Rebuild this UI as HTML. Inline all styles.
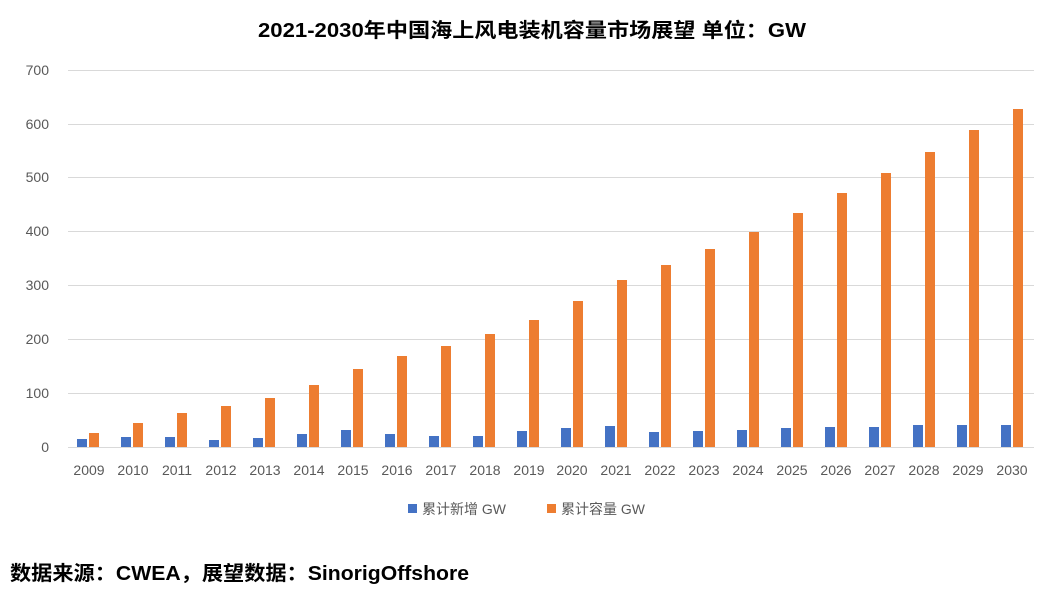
<!DOCTYPE html>
<html><head><meta charset="utf-8"><style>
body{margin:0;background:#fff;}
svg{display:block;font-family:"Liberation Sans","Noto Sans CJK SC",sans-serif;}
</style></head><body>
<svg width="1060" height="603" viewBox="0 0 1060 603">
<rect width="1060" height="603" fill="#fff"/>
<text x="258" y="37" textLength="548" lengthAdjust="spacingAndGlyphs" font-size="20" font-weight="bold" fill="#000">2021-2030年中国海上风电装机容量市场展望 单位：GW</text>
<g stroke="#d9d9d9" stroke-width="1">
<line x1="68" x2="1034" y1="70.5" y2="70.5"/><line x1="68" x2="1034" y1="124.5" y2="124.5"/>
<line x1="68" x2="1034" y1="177.5" y2="177.5"/><line x1="68" x2="1034" y1="231.5" y2="231.5"/>
<line x1="68" x2="1034" y1="285.5" y2="285.5"/><line x1="68" x2="1034" y1="339.5" y2="339.5"/>
<line x1="68" x2="1034" y1="393.5" y2="393.5"/><line x1="68" x2="1034" y1="447.5" y2="447.5"/>
</g>
<g font-size="14" fill="#595959" text-anchor="end">
<text x="49" y="75">700</text><text x="49" y="129">600</text><text x="49" y="182">500</text>
<text x="49" y="236">400</text><text x="49" y="290">300</text><text x="49" y="344">200</text>
<text x="49" y="398">100</text><text x="49" y="452">0</text>
</g>
<g fill="#4472C4">
<rect x="77" y="439" width="10" height="8"/><rect x="121" y="437" width="10" height="10"/>
<rect x="165" y="437" width="10" height="10"/><rect x="209" y="440" width="10" height="7"/>
<rect x="253" y="438" width="10" height="9"/><rect x="297" y="434" width="10" height="13"/>
<rect x="341" y="430" width="10" height="17"/><rect x="385" y="434" width="10" height="13"/>
<rect x="429" y="436" width="10" height="11"/><rect x="473" y="436" width="10" height="11"/>
<rect x="517" y="431" width="10" height="16"/><rect x="561" y="428" width="10" height="19"/>
<rect x="605" y="426" width="10" height="21"/><rect x="649" y="432" width="10" height="15"/>
<rect x="693" y="431" width="10" height="16"/><rect x="737" y="430" width="10" height="17"/>
<rect x="781" y="428" width="10" height="19"/><rect x="825" y="427" width="10" height="20"/>
<rect x="869" y="427" width="10" height="20"/><rect x="913" y="425" width="10" height="22"/>
<rect x="957" y="425" width="10" height="22"/><rect x="1001" y="425" width="10" height="22"/>
</g>
<g fill="#ED7D31">
<rect x="89" y="433" width="10" height="14"/><rect x="133" y="423" width="10" height="24"/>
<rect x="177" y="413" width="10" height="34"/><rect x="221" y="406" width="10" height="41"/>
<rect x="265" y="398" width="10" height="49"/><rect x="309" y="385" width="10" height="62"/>
<rect x="353" y="369" width="10" height="78"/><rect x="397" y="356" width="10" height="91"/>
<rect x="441" y="346" width="10" height="101"/><rect x="485" y="334" width="10" height="113"/>
<rect x="529" y="320" width="10" height="127"/><rect x="573" y="301" width="10" height="146"/>
<rect x="617" y="280" width="10" height="167"/><rect x="661" y="265" width="10" height="182"/>
<rect x="705" y="249" width="10" height="198"/><rect x="749" y="232" width="10" height="215"/>
<rect x="793" y="213" width="10" height="234"/><rect x="837" y="193" width="10" height="254"/>
<rect x="881" y="173" width="10" height="274"/><rect x="925" y="152" width="10" height="295"/>
<rect x="969" y="130" width="10" height="317"/><rect x="1013" y="109" width="10" height="338"/>
</g>
<g font-size="14" fill="#595959" text-anchor="middle">
<text x="89" y="475">2009</text><text x="133" y="475">2010</text><text x="177" y="475">2011</text>
<text x="221" y="475">2012</text><text x="265" y="475">2013</text><text x="309" y="475">2014</text>
<text x="353" y="475">2015</text><text x="397" y="475">2016</text><text x="441" y="475">2017</text>
<text x="485" y="475">2018</text><text x="529" y="475">2019</text><text x="572" y="475">2020</text>
<text x="616" y="475">2021</text><text x="660" y="475">2022</text><text x="704" y="475">2023</text>
<text x="748" y="475">2024</text><text x="792" y="475">2025</text><text x="836" y="475">2026</text>
<text x="880" y="475">2027</text><text x="924" y="475">2028</text><text x="968" y="475">2029</text>
<text x="1012" y="475">2030</text>
</g>
<rect x="408" y="504" width="9" height="9" fill="#4472C4"/>
<text x="422" y="514" font-size="14" fill="#595959">累计新增 GW</text>
<rect x="547" y="504" width="9" height="9" fill="#ED7D31"/>
<text x="561" y="514" font-size="14" fill="#595959">累计容量 GW</text>
<text x="10" y="580" textLength="459" lengthAdjust="spacingAndGlyphs" font-size="20" font-weight="bold" fill="#000">数据来源：CWEA，展望数据：SinorigOffshore</text>
</svg>
</body></html>
